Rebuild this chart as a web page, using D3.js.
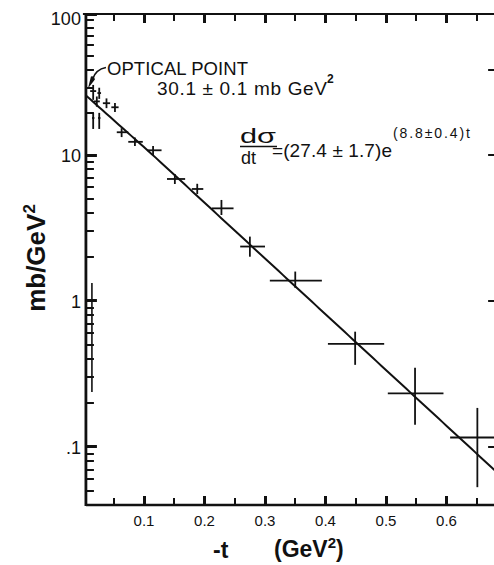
<!DOCTYPE html>
<html><head><meta charset="utf-8">
<script src="https://cdn.jsdelivr.net/npm/d3@7"></script>
<style>
html,body{margin:0;padding:0;background:#fff;}
svg{display:block;}
text{font-family:"Liberation Sans",Arial,sans-serif;fill:#111;}
</style></head><body>
<svg id="chart" width="494" height="565"></svg>
<script>
// -t (GeV^2) and dσ/dt (mb/GeV^2), with the extent of each cross
const tVals = [0.016,0.026,0.022,0.038,0.052,0.016,0.026, 0.063,0.085,0.115,0.151,0.188,0.228,0.275,0.350,0.449,0.548,0.651];
const tLo   = [0.011,0.023,0.017,0.032,0.046,0.014,0.024, 0.055,0.074,0.105,0.138,0.179,0.212,0.259,0.308,0.404,0.503,0.606];
const tHi   = [0.021,0.029,0.027,0.044,0.058,0.018,0.028, 0.074,0.098,0.129,0.168,0.198,0.248,0.300,0.394,0.497,0.595,0.700];
const sigVals = [28.4,27.5,24.0,23.3,21.8,18.3,18.3, 14.5,12.4,10.8,6.85,5.85,4.31,2.36,1.38,0.508,0.233,0.116];
const sigLo   = [24.6,25.0,22.0,21.5,20.2,15.3,15.3, 13.4,11.6,10.0,6.33,5.40,3.88,2.01,1.23,0.365,0.142,0.053];
const sigHi   = [31.4,30.0,26.0,25.2,23.4,19.9,19.9, 15.5,13.3,11.6,7.41,6.35,4.92,2.76,1.59,0.616,0.349,0.185];

// exponential fit dσ/dt = A·exp(-B·|t|)
const fitA = 27.4, fitB = 8.8;
const opticalPoint = 30.1;

// axis ticks
const xMajor = [0.1,0.2,0.3,0.4,0.5,0.6];
const xMinor = [0.05,0.15,0.25,0.35,0.45,0.55,0.65];
const xLabels = ["0.1","0.2","0.3","0.4","0.5","0.6"];
const yMajor = [100,10,1,0.1];
const yLabels = ["100","10","1",".1"];
const yMinor = [0.05,0.06,0.07,0.08,0.09,0.2,0.3,0.4,0.5,0.6,0.7,0.8,0.9,2,3,4,5,6,7,8,9,20,30,40,50,60,70,80,90];
const yRightTicks = [40,10,1,0.1];
const tRange = [0.004, 0.682];

const svg = d3.select("#chart");
const x = d3.scaleLinear().domain([0,0.6]).range([83.5,446.5]);
const y = d3.scaleLog().domain([0.04,10,100]).range([505,155,14]);

const pL = x(tRange[0]), pR = x(tRange[1]);
const pT = y(100), pB = y(0.04);
const ink = "#111";

svg.append("defs").append("clipPath").attr("id","plot")
  .append("rect").attr("x",pL).attr("y",pT).attr("width",pR-pL).attr("height",pB-pT);

// frame
const frame = svg.append("g").attr("stroke",ink).attr("fill","none");
frame.append("line").attr("x1",pL-3).attr("x2",pR).attr("y1",pT).attr("y2",pT).attr("stroke-width",2.2);
frame.append("line").attr("x1",pL).attr("x2",pR).attr("y1",pB).attr("y2",pB).attr("stroke-width",2.6);
frame.append("line").attr("x1",pL).attr("x2",pL).attr("y1",pT-1).attr("y2",pB+1).attr("stroke-width",2.8);
frame.append("line").attr("x1",pR).attr("x2",pR).attr("y1",pT).attr("y2",pB).attr("stroke-width",2.2);

// tick marks, all pointing into the plot
const tickG = svg.append("g").attr("fill",ink);
function hTicks(vals, x0, len, w){
  tickG.append("g").selectAll("rect").data(vals).join("rect")
    .attr("x",len>0?x0:x0+len).attr("y",d=>Math.round(y(d)-w/2)).attr("width",Math.abs(len)).attr("height",w);
}
function vTicks(vals, y0, len, w){
  tickG.append("g").selectAll("rect").data(vals).join("rect")
    .attr("x",d=>Math.round(x(d)-w/2)).attr("y",len>0?y0:y0+len).attr("width",w).attr("height",Math.abs(len));
}
vTicks(xMajor,pB,-9,3);
vTicks(xMinor,pB,-7,2);
vTicks(xMajor,pT,9,3);
vTicks(xMinor,pT,7,2);
hTicks(yMajor,pL,11,3);
hTicks(yMinor,pL,8,2);
hTicks(yRightTicks,pR,-8,2);

// second rule drawn beside the axis through the lower decade
svg.append("line").attr("x1",pL+6).attr("x2",pL+6)
  .attr("y1",y(1.33)).attr("y2",y(0.238))
  .attr("stroke",ink).attr("stroke-width",1.6);

// tick labels
svg.append("g").selectAll("text").data(xMajor).join("text")
  .attr("x",d=>x(d)).attr("y",pB+21).attr("text-anchor","middle").attr("font-size",15)
  .text((d,i)=>xLabels[i]);
svg.append("g").selectAll("text").data(yMajor).join("text")
  .attr("x",pL-5).attr("y",d=>y(d)+(d===100?11:7)).attr("text-anchor","end").attr("font-size",18)
  .text((d,i)=>yLabels[i]);

// fit line
const plot = svg.append("g").attr("clip-path","url(#plot)");
const fitPts = d3.range(0,101).map(i=>{const t=tRange[0]+(tRange[1]-tRange[0])*i/100;return [t,fitA*Math.exp(-fitB*t)];});
plot.append("path")
  .attr("d",d3.line().x(d=>x(d[0])).y(d=>y(d[1]))(fitPts))
  .attr("fill","none").attr("stroke",ink).attr("stroke-width",2);

// data crosses
const pts = tVals.map((t,i)=>({t,v:sigVals[i],t0:tLo[i],t1:tHi[i],v0:sigLo[i],v1:sigHi[i]}));
const cross = plot.selectAll("g.pt").data(pts).join("g").attr("class","pt")
  .attr("stroke",ink).attr("stroke-width",1.8);
cross.append("line").attr("x1",d=>x(d.t0)).attr("x2",d=>x(d.t1)).attr("y1",d=>y(d.v)).attr("y2",d=>y(d.v));
cross.append("line").attr("x1",d=>x(d.t)).attr("x2",d=>x(d.t)).attr("y1",d=>y(d.v0)).attr("y2",d=>y(d.v1));

// optical point label and arrow
const tipX = pL+2, tipY = y(opticalPoint)+1;
svg.append("path")
  .attr("d",`M${tipX+18},${tipY-21} Q${tipX+8},${tipY-19} ${tipX+5},${tipY-10}`)
  .attr("fill","none").attr("stroke",ink).attr("stroke-width",1.6);
svg.append("path")
  .attr("d",`M${tipX},${tipY} L${tipX+3},${tipY-12} Q${tipX+6},${tipY-13} ${tipX+7},${tipY-9} Z`)
  .attr("fill",ink);
svg.append("text").attr("x",107).attr("y",75).attr("font-size",18.5)
  .attr("textLength",141).attr("lengthAdjust","spacing").text("OPTICAL POINT");
svg.append("text").attr("x",157).attr("y",95).attr("font-size",19)
  .attr("textLength",170).attr("lengthAdjust","spacing").text("30.1 ± 0.1 mb GeV");
svg.append("text").attr("x",327).attr("y",83).attr("font-size",12).attr("font-weight","bold").text("2");

// fit formula
const eq = svg.append("g");
eq.append("text").attr("x",240).attr("y",143).attr("font-size",20)
  .attr("textLength",36).attr("lengthAdjust","spacingAndGlyphs").text("dσ");
eq.append("line").attr("x1",240).attr("x2",277).attr("y1",146.5).attr("y2",146.5).attr("stroke",ink).attr("stroke-width",1.5);
eq.append("text").attr("x",241).attr("y",164).attr("font-size",18).text("dt");
eq.append("text").attr("x",272).attr("y",157).attr("font-size",19)
  .attr("textLength",120).attr("lengthAdjust","spacing").text("=(27.4 ± 1.7)e");
eq.append("text").attr("x",393).attr("y",138).attr("font-size",14)
  .attr("textLength",77).attr("lengthAdjust","spacing").text("(8.8±0.4)t");

// axis titles
svg.append("text").attr("transform","translate(45,258) rotate(-90)").attr("text-anchor","middle")
  .attr("font-size",26).attr("font-weight","bold")
  .text("mb/GeV").append("tspan").attr("dy",-10).attr("font-size",17).text("2");
svg.append("text").attr("x",213).attr("y",558).attr("font-size",23).attr("font-weight","bold").text("-t");
svg.append("text").attr("x",274).attr("y",557).attr("font-size",23).attr("font-weight","bold")
  .text("(GeV").call(t=>{t.append("tspan").attr("dy",-9).attr("font-size",15).text("2");t.append("tspan").attr("dy",9).text(")");});
</script>
</body></html>
